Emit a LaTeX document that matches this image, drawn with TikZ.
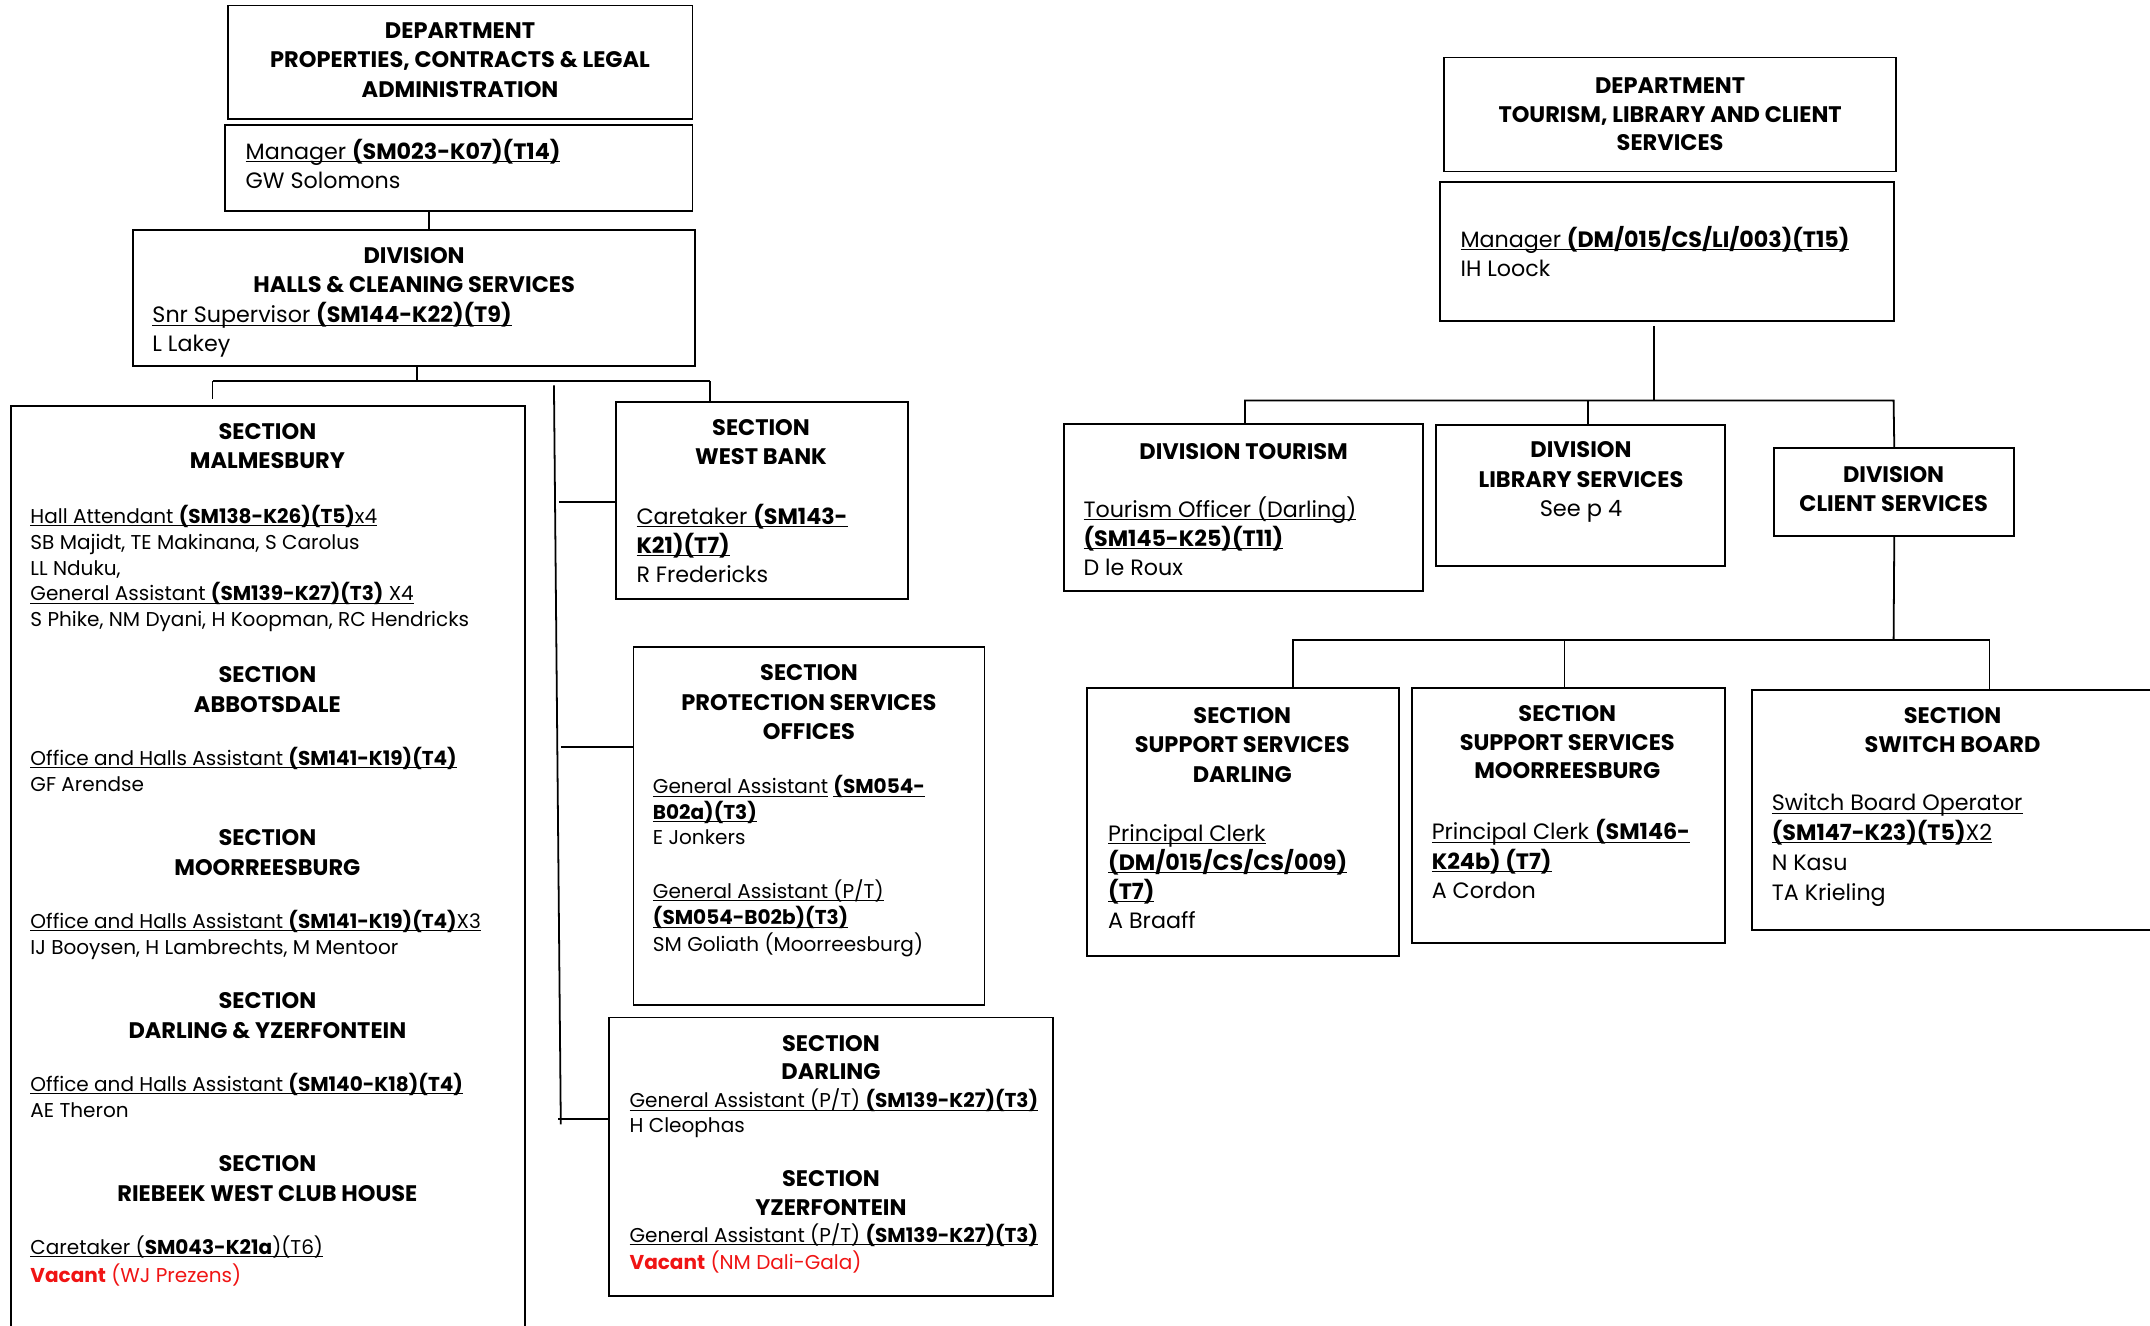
\documentclass[tikz,border=0pt]{standalone}
\usepackage{fontspec}
\setmainfont{Poppins}
\definecolor{vred}{RGB}{240,20,20}
\newcommand\ul[1]{\underline{\smash{#1}}}
\tikzset{
  box/.style={draw, line width=1.3pt, inner sep=0pt},
  conn/.style={line width=1.3pt},
  hd/.style={font=\fontsize{16.4}{#1}\selectfont\bfseries, align=center, inner sep=0pt, anchor=base},
  hd/.default=21.5,
  bds/.style={font=\fontsize{14.6}{#1}\selectfont, align=left, inner sep=0pt, anchor=base west},
  bds/.default=19,
  bdl/.style={font=\fontsize{16.2}{#1}\selectfont, align=left, inner sep=0pt, anchor=base west},
  bdl/.default=21.3,
}
\begin{document}
\begin{tikzpicture}[x=1pt,y=-1pt]
\useasboundingbox (0,0) rectangle (1568,967);
\fill[white] (0,0) rectangle (1568,967);
% ---------- left department ----------
\node[box, minimum width=339pt, minimum height=83pt] (d1) at (335.5,45.5) {};
\node[hd] (d1t) at (335.5,71) {DEPARTMENT\\PROPERTIES, CONTRACTS \& LEGAL\\ADMINISTRATION};
\node[box, minimum width=341pt, minimum height=63pt] (m1) at (334.5,122.5) {};
\node[bdl=21] (m1t) at (179,137.5) {\ul{Manager \textbf{(SM023-K07)(T14)}}\\GW Solomons};
\node[box, minimum width=410pt, minimum height=99pt] (v1) at (302,217.5) {};
\node[hd=21] (v1h) at (302,213.5) {DIVISION\\HALLS \& CLEANING SERVICES};
\node[bdl=21] (v1t) at (111,256.5) {\ul{Snr Supervisor \textbf{(SM144-K22)(T9)}}\\L Lakey};
% Malmesbury etc.
\node[box, minimum width=375pt, minimum height=720pt] (mal) at (195.5,656) {};
\node[hd=21] (malh) at (195,341.5) {SECTION\\MALMESBURY};
\node[bds=18.8] (malt) at (22,457) {\ul{Hall Attendant \textbf{(SM138-K26)(T5)}x4}\\SB Majidt, TE Makinana, S Carolus\\LL Nduku,\\\ul{General Assistant \textbf{(SM139-K27)(T3)} X4}\\S Phike, NM Dyani, H Koopman, RC Hendricks};
\node[hd=22] (abbh) at (195,519.5) {SECTION\\ABBOTSDALE};
\node[bds] (abbt) at (22,577) {\ul{Office and Halls Assistant \textbf{(SM141-K19)(T4)}}\\GF Arendse};
\node[hd=22] (moorh) at (195,638.5) {SECTION\\MOORREESBURG};
\node[bds] (moort) at (22,696) {\ul{Office and Halls Assistant \textbf{(SM141-K19)(T4)}X3}\\IJ Booysen, H Lambrechts, M Mentoor};
\node[hd=22] (dyh) at (195,757.5) {SECTION\\DARLING \& YZERFONTEIN};
\node[bds] (dyt) at (22,815) {\ul{Office and Halls Assistant \textbf{(SM140-K18)(T4)}}\\AE Theron};
\node[hd=22] (rwh) at (195,876.5) {SECTION\\RIEBEEK WEST CLUB HOUSE};
\node[bds=20] (rwt) at (22,935) {\ul{Caretaker (\textbf{SM043-K21a})(T6)}\\\textcolor{vred}{\textbf{Vacant} (WJ Prezens)}};
% West bank
\node[box, minimum width=213pt, minimum height=144pt] (wb) at (555.5,365) {};
\node[hd=21] (wbh) at (555,338.5) {SECTION\\WEST BANK};
\node[bdl=21] (wbt) at (464,424.5) {\ul{Caretaker \textbf{(SM143-}}\\\ul{\textbf{K21)(T7)}}\\R Fredericks};
% Protection
\node[box, minimum width=256pt, minimum height=261pt] (ps) at (590,602.5) {};
\node[hd] (psh) at (590,539.5) {SECTION\\PROTECTION SERVICES\\OFFICES};
\node[bds=18.5] (pst1) at (476,616) {\ul{General Assistant} \ul{\textbf{(SM054-}}\\\ul{\textbf{B02a)(T3)}}\\E Jonkers};
\node[bds=19.5] (pst2) at (476,694) {\ul{General Assistant (P/T)}\\\ul{\textbf{(SM054-B02b)(T3)}}\\SM Goliath (Moorreesburg)};
% Darling / Yzerfontein
\node[box, minimum width=324pt, minimum height=203pt] (dar) at (606,843.5) {};
\node[hd=21] (darh) at (606,787.5) {SECTION\\DARLING};
\node[bds=18] (dart) at (459,826) {\ul{General Assistant (P/T) \textbf{(SM139-K27)(T3)}}\\H Cleophas};
\node[hd=21] (yzh) at (606,886.5) {SECTION\\YZERFONTEIN};
\node[bds=20] (yzt) at (459,926) {\ul{General Assistant (P/T) \textbf{(SM139-K27)(T3)}}\\\textcolor{vred}{\textbf{Vacant} (NM Dali-Gala)}};
% left connectors
\draw[conn] (m1.south -| 313,0) -- (313,0 |- v1.north);
\coordinate (lb1) at (304,278);
\coordinate (lbl) at (155,278);
\coordinate (lbr) at (518,278);
\draw[conn] (304,0 |- v1.south) -- (lb1);
\draw[conn] (lbl) -- (lbr);
\draw[conn] (lbl) -- (155,291);
\draw[conn] (lbr) -- (518,0 |- wb.north);
\coordinate (tr1) at (404,281);
\coordinate (tr2) at (409,820);
\draw[conn] (tr1) -- (tr2);
\draw[conn] (407.5,366) -- (wb.west |- 0,366);
\draw[conn] (409,545) -- (ps.west |- 0,545);
\draw[conn] (407,816) -- (dar.west |- 0,816);
% ---------- right department ----------
\node[box, minimum width=330pt, minimum height=83pt] (d2) at (1218,83.5) {};
\node[hd=21] (d2t) at (1218,110) {DEPARTMENT\\TOURISM, LIBRARY AND CLIENT\\SERVICES};
\node[box, minimum width=331pt, minimum height=101pt] (m2) at (1215.5,183.5) {};
\node[bdl=21] (m2t) at (1065,201.5) {\ul{Manager \textbf{(DM/015/CS/LI/003)(T15)}}\\IH Loock};
\node[box, minimum width=262pt, minimum height=122pt] (tou) at (907,370) {};
\node[hd] (touh) at (907,335) {DIVISION TOURISM};
\node[bdl=21] (tout) at (790,419.5) {\ul{Tourism Officer (Darling)}\\\ul{\textbf{(SM145-K25)(T11)}}\\D le Roux};
\node[box, minimum width=211pt, minimum height=103pt] (lib) at (1152.5,361.5) {};
\node[hd=21.5] (libh) at (1153,377) {DIVISION\\LIBRARY SERVICES\\\mdseries See p 4};
\node[box, minimum width=175pt, minimum height=64pt] (cli) at (1381.5,359) {};
\node[hd=21] (clih) at (1381,373) {DIVISION\\CLIENT SERVICES};
\node[box, minimum width=227pt, minimum height=195pt] (ssd) at (906.5,599.5) {};
\node[hd] (ssdh) at (906,570.5) {SECTION\\SUPPORT SERVICES\\DARLING};
\node[bdl=21.3] (ssdt) at (808,677.5) {\ul{Principal Clerk}\\\ul{\textbf{(DM/015/CS/CS/009)}}\\\ul{\textbf{(T7)}}\\A Braaff};
\node[box, minimum width=228pt, minimum height=186pt] (ssm) at (1144,595) {};
\node[hd=20.5] (ssmh) at (1143,567.5) {SECTION\\SUPPORT SERVICES\\MOORREESBURG};
\node[bdl=21.5] (ssmt) at (1044,655.5) {\ul{Principal Clerk \textbf{(SM146-}}\\\ul{\textbf{K24b) (T7)}}\\A Cordon};
\node[box, minimum width=330pt, minimum height=175pt] (swb) at (1443,590.5) {};
\node[hd=21] (swbh) at (1424,548.5) {SECTION\\SWITCH BOARD};
\node[bdl=21.7] (swbt) at (1292,656.5) {\ul{Switch Board Operator}\\\ul{\textbf{(SM147-K23)(T5)}X2}\\N Kasu\\TA Krieling};
% right connectors
\coordinate (rb1) at (1206,292);
\draw[conn] (1206,0 |- m2.south) ++(0,3) -- (rb1);
\draw[conn] (908,0 |- tou.north) -- (908,292) -- (1381,292) -- (cli.north);
\draw[conn] (1158,292) -- (1158,0 |- lib.north);
\coordinate (rb2) at (1381,467);
\draw[conn] (cli.south) -- (rb2);
\draw[conn] (943,0 |- ssd.north) -- (943,467) -- (1451,467) -- (1451,0 |- swb.north);
\draw[conn] (1141,467) -- (1141,0 |- ssm.north);
\end{tikzpicture}
\end{document}
